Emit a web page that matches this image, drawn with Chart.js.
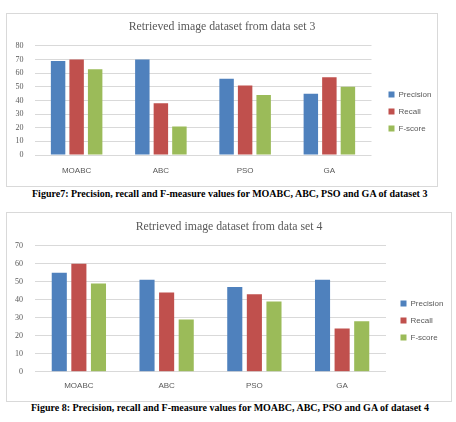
<!DOCTYPE html>
<html><head><meta charset="utf-8">
<script src="https://cdn.jsdelivr.net/npm/chart.js@4/dist/chart.umd.min.js"></script>
<style>
html,body{margin:0;padding:0;background:#fff;width:456px;height:422px;overflow:hidden;}
.box{position:absolute;border:1px solid #D9D9D9;box-sizing:border-box;background:#fff;}
.box canvas{position:absolute;left:0;top:0;}
.cap{position:absolute;font-family:"Liberation Serif","Times New Roman",serif;font-weight:bold;font-size:10px;color:#000;white-space:nowrap;}
</style></head><body>
<div class="box" id="b1" style="left:6px;top:13px;width:432px;height:174px;"><canvas id="c1"></canvas></div>
<div class="cap" style="left:32px;top:188px;">Figure7: Precision, recall and F-measure values for MOABC, ABC, PSO and GA of dataset 3</div>
<div class="box" id="b2" style="left:6px;top:212px;width:446px;height:190px;"><canvas id="c2"></canvas></div>
<div class="cap" style="left:31px;top:402px;">Figure 8: Precision, recall and F-measure values for MOABC, ABC, PSO and GA of dataset 4</div>
<script>
const categories = ["MOABC", "ABC", "PSO", "GA"];
const seriesNames = ["Precision", "Recall", "F-score"];
const titles = ["Retrieved image dataset from data set 3", "Retrieved image dataset from data set 4"];
const set3Precision = [69, 70, 56, 45];
const set3Recall = [70, 38, 51, 57];
const set3FScore = [63, 21, 44, 50];
const set4Precision = [55, 51, 47, 51];
const set4Recall = [60, 44, 43, 24];
const set4FScore = [49, 29, 39, 28];
const yTicks3 = [0, 10, 20, 30, 40, 50, 60, 70, 80];
const yTicks4 = [0, 10, 20, 30, 40, 50, 60, 70];
const colors = ["#4F81BD", "#C0504D", "#9BBB59"];

const fixLegend = {
  id: "fixLegend",
  beforeUpdate(chart, args, opts) {
    const lg = chart.legend;
    if (lg && !lg._fixed) {
      const f = lg.fit;
      lg.fit = function () { f.call(this); this.width = opts.width; };
      lg._fixed = true;
    }
  }
};

function makeChart(id, w, h, title, data, yTicks, cfg) {
  const cv = document.getElementById(id);
  cv.width = w; cv.height = h;
  cv.style.width = w + "px"; cv.style.height = h + "px";
  return new Chart(cv, {
    type: "bar",
    plugins: [fixLegend],
    data: {
      labels: categories,
      datasets: data.map((d, i) => ({
        label: seriesNames[i], data: d, backgroundColor: colors[i],
        categoryPercentage: cfg.cat, barPercentage: cfg.bar
      }))
    },
    options: {
      responsive: false, animation: false,
      layout: { padding: 0 },
      plugins: {
        fixLegend: { width: cfg.legW },
        title: { display: true, text: title, color: "#595959",
          font: { family: "Liberation Serif", size: 11.8, weight: "normal" },
          padding: { top: cfg.titleTop, bottom: cfg.titleBottom } },
        legend: { position: "right",
          title: { display: true, text: " ", font: { size: 10 }, padding: cfg.legTitlePad },
          labels: { boxWidth: 6, boxHeight: 6, color: "#595959", padding: 9,
            font: { family: "Liberation Sans", size: 8 } } },
        tooltip: { enabled: false }
      },
      scales: {
        x: { grid: { display: false, drawTicks: false }, border: { display: false },
          ticks: { color: "#595959", padding: cfg.xPad, font: { family: "Liberation Sans", size: 8 } },
          afterFit: s => { s.height = cfg.xH; } },
        y: { min: yTicks[0], max: yTicks[yTicks.length - 1],
          afterBuildTicks: s => { s.ticks = yTicks.map(v => ({ value: v })); },
          grid: { color: "#D9D9D9", drawTicks: false }, border: { display: false },
          ticks: { color: "#595959", padding: cfg.yPad, font: { family: "Liberation Serif", size: 8 } },
          afterFit: s => { s.width = cfg.yW; } },
        gap: { type: "linear", position: "right", display: true,
          grid: { display: false, drawTicks: false }, border: { display: false }, ticks: { display: false },
          afterFit: s => { s.width = cfg.gapW; } }
      }
    }
  });
}

makeChart("c1", 430, 172, titles[0], [set3Precision, set3Recall, set3FScore], yTicks3,
  { cat: 0.66, bar: 0.78, titleTop: 5.9, titleBottom: 11.9, xPad: 11, xH: 31,
    yPad: 11, yW: 27.5, gapW: 8, legW: 57.5, legTitlePad: 5.5 });
makeChart("c2", 444, 188, titles[1], [set4Precision, set4Recall, set4FScore], yTicks4,
  { cat: 0.67, bar: 0.77, titleTop: 6.9, titleBottom: 11.6, xPad: 9.3, xH: 29.3,
    yPad: 12, yW: 28, gapW: 5.5, legW: 59.5, legTitlePad: 7.5 });
</script>
</body></html>
